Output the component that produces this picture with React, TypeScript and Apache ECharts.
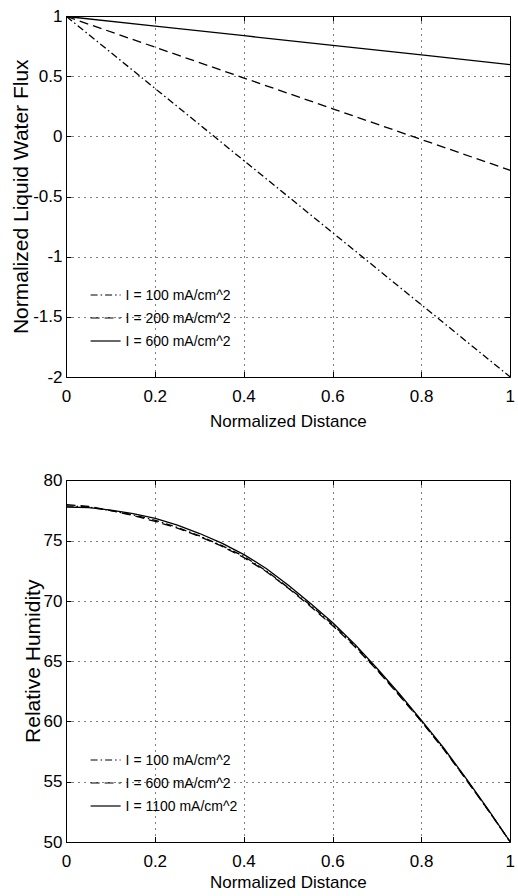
import React, { useEffect, useRef } from "react";
import * as echarts from "echarts";

// ---- Data ----
const xTop = [0, 0.2, 0.4, 0.6, 0.8, 1.0];
const fluxI100 = [1, 0.4, -0.2, -0.8, -1.4, -2.0];
const fluxI200 = [1, 0.744, 0.488, 0.232, -0.024, -0.28];
const fluxI600 = [1, 0.92, 0.84, 0.76, 0.68, 0.6];
const topNames = ["I = 100 mA/cm^2", "I = 200 mA/cm^2", "I = 600 mA/cm^2"];

const xBottom = [0, 0.05, 0.1, 0.15, 0.2, 0.25, 0.3, 0.35, 0.4, 0.45, 0.5, 0.55, 0.6, 0.65, 0.7, 0.75, 0.8, 0.85, 0.9, 0.95, 1.0];
const rhI100 = [77.9, 77.8, 77.5, 77.15, 76.7, 76.1, 75.4, 74.6, 73.7, 72.5, 71.1, 69.65, 68.05, 66.3, 64.3, 62.2, 60.0, 57.7, 55.25, 52.65, 50.0];
const rhI600 = [78.0, 77.85, 77.5, 77.1, 76.6, 76.05, 75.35, 74.55, 73.6, 72.45, 71.05, 69.55, 67.95, 66.2, 64.25, 62.15, 60.0, 57.7, 55.2, 52.65, 50.0];
const rhI1100 = [77.8, 77.75, 77.55, 77.25, 76.85, 76.3, 75.6, 74.8, 73.85, 72.7, 71.3, 69.8, 68.2, 66.4, 64.4, 62.3, 60.1, 57.8, 55.3, 52.7, 50.0];
const bottomNames = ["I = 100 mA/cm^2", "I = 600 mA/cm^2", "I = 1100 mA/cm^2"];

const xTitle = "Normalized Distance";
const yTitleTop = "Normalized Liquid Water Flux";
const yTitleBottom = "Relative Humidity";

const FONT = "'Liberation Sans', Arial, Helvetica, sans-serif";

const dashDot = [7, 3, 1.5, 3];
const dashed = [9, 5];

const pairs = (xs: number[], ys: number[]) => xs.map((x, i) => [x, ys[i]]);

export default function App() {
  const ref = useRef<HTMLDivElement>(null);
  useEffect(() => {
    if (!ref.current) return;
    const chart = echarts.init(ref.current, undefined, { renderer: "svg" });

    const axisLine = { show: true, onZero: false, lineStyle: { color: "#000", width: 1 } };
    const tickIn = { show: true, inside: true, length: 5, lineStyle: { color: "#000" } };
    const grid = { show: true, lineStyle: { color: "#000", width: 1, type: [1, 5] } };

    const xMain = (gi: number, gap: number) => ({
      type: "value", gridIndex: gi, min: 0, max: 1, interval: 0.2, position: "bottom",
      axisLine, axisTick: tickIn, splitLine: grid,
      axisLabel: { color: "#000", fontFamily: FONT, fontSize: 17, margin: 11 },
      name: xTitle, nameLocation: "middle", nameGap: gap, nameMoveOverlap: false,
      nameTextStyle: { color: "#000", fontFamily: FONT, fontSize: 17 },
    });
    const xTopAxis = (gi: number) => ({
      type: "value", gridIndex: gi, min: 0, max: 1, interval: 0.2, position: "top",
      axisLine, axisTick: tickIn, splitLine: { show: false }, axisLabel: { show: false },
    });
    const yMain = (gi: number, min: number, max: number, interval: number, name: string, gap: number) => ({
      type: "value", gridIndex: gi, min, max, interval, position: "left",
      axisLine, axisTick: tickIn, splitLine: grid,
      axisLabel: { color: "#000", fontFamily: FONT, fontSize: 17, margin: 4 },
      name, nameLocation: "middle", nameGap: gap, nameMoveOverlap: false,
      nameTextStyle: { color: "#000", fontFamily: FONT, fontSize: 21 },
    });
    const yRight = (gi: number, min: number, max: number, interval: number) => ({
      type: "value", gridIndex: gi, min, max, interval, position: "right",
      axisLine, axisTick: tickIn, splitLine: { show: false }, axisLabel: { show: false },
    });

    const line = (name: string, xi: number, yi: number, data: number[][], type: any, width = 1.3) => ({
      type: "line", name, xAxisIndex: xi, yAxisIndex: yi, data,
      showSymbol: false, symbol: "none", smooth: false,
      lineStyle: { color: "#000", width, type },
      itemStyle: { color: "#000" },
    });

    const hiddenSymbol = { color: "rgba(0,0,0,0)", borderWidth: 0, borderColor: "rgba(0,0,0,0)", opacity: 0 };
    const legendItem = (name: string, type: any) => ({
      name, lineStyle: { color: "#000", width: 1.2, type, opacity: 1 }, itemStyle: hiddenSymbol,
    });
    const legendBase = {
      orient: "vertical", left: 85, itemWidth: 30, itemHeight: 14, itemGap: 9,
      selectedMode: false,
      itemStyle: hiddenSymbol,
      textStyle: { color: "#000", fontFamily: FONT, fontSize: 14, lineHeight: 14 },
    };

    chart.setOption({
      animation: false,
      backgroundColor: "#fff",
      grid: [
        { left: 66.5, right: 2.5, top: 16.5, height: 360.5, containLabel: false },
        { left: 66.5, right: 2.5, top: 480.5, height: 361.5, containLabel: false },
      ],
      xAxis: [xMain(0, 36), xTopAxis(0), xMain(1, 32), xTopAxis(1)],
      yAxis: [
        yMain(0, -2, 1, 0.5, yTitleTop, 36),
        yRight(0, -2, 1, 0.5),
        yMain(1, 50, 80, 5, yTitleBottom, 24),
        yRight(1, 50, 80, 5),
      ],
      legend: [
        {
          ...legendBase, top: 283,
          data: [legendItem(topNames[0], dashDot), legendItem(topNames[1], dashed), legendItem(topNames[2], "solid")],
        },
        {
          ...legendBase, top: 748,
          data: [legendItem(bottomNames[0], dashDot), legendItem(bottomNames[1], dashed), legendItem(bottomNames[2], "solid")],
        },
      ],
      series: [
        line(topNames[0], 0, 0, pairs(xTop, fluxI100), dashDot),
        line(topNames[1], 0, 0, pairs(xTop, fluxI200), dashed),
        line(topNames[2], 0, 0, pairs(xTop, fluxI600), "solid"),
        line(bottomNames[0], 2, 2, pairs(xBottom, rhI100), dashDot),
        line(bottomNames[1], 2, 2, pairs(xBottom, rhI600), dashed),
        line(bottomNames[2], 2, 2, pairs(xBottom, rhI1100), "solid"),
      ],
    });
    return () => chart.dispose();
  }, []);
  return <div ref={ref} style={{ position: "fixed", left: 0, top: 0, width: 518, height: 896, background: "#fff" }} />;
}
